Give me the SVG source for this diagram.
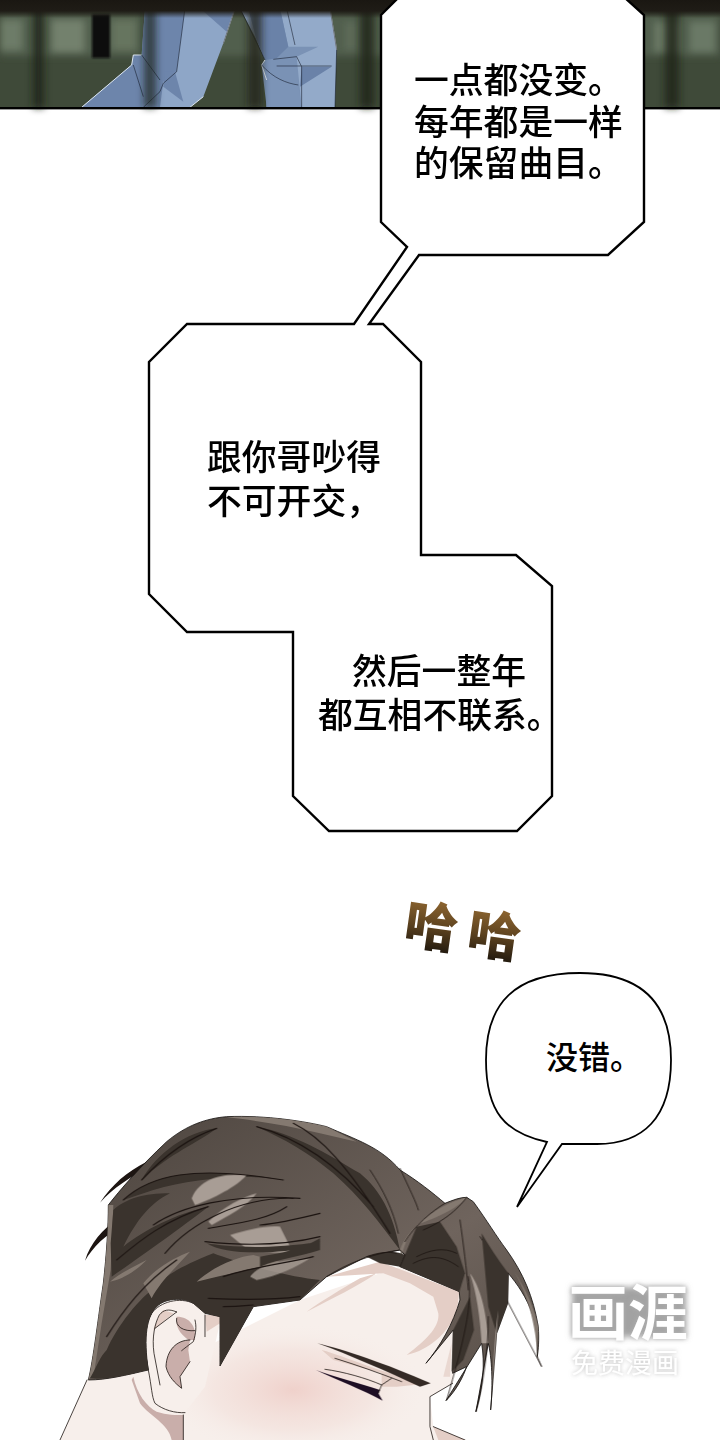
<svg xmlns="http://www.w3.org/2000/svg" width="720" height="1440" viewBox="0 0 720 1440">
<style>
.t{font-family:"Noto Sans CJK SC","Noto Sans",sans-serif;font-weight:500;font-size:34.8px;fill:#000}
.b{fill:#fff;stroke:#000;stroke-width:2.4;stroke-linejoin:miter}
.l{fill:none;stroke:#1d1512;stroke-width:3.5;stroke-linecap:round}
.lt{fill:none;stroke:#1d1512;stroke-width:2.4;stroke-linecap:round}
.k{fill:#1d1512}
.d{fill:#3a332d}
.g{fill:#a89d95}
.m{fill:#847970}
.s{fill:#e4cec6}
.c{fill:#c9aeaa}
.leg{stroke:#0d1320;stroke-width:1.6;fill:none}
</style>
<defs>
<linearGradient id="ha" x1="0" y1="0" x2="0" y2="1"><stop offset="0" stop-color="#a9793a"/><stop offset=".55" stop-color="#5c421f"/><stop offset="1" stop-color="#0c0a08"/></linearGradient>
<linearGradient id="hair" x1="0" y1="0" x2="1" y2="1"><stop offset="0" stop-color="#4c443e"/><stop offset=".6" stop-color="#6f645d"/><stop offset="1" stop-color="#544b44"/></linearGradient>
<linearGradient id="band" x1="0" y1="0" x2="0" y2="1"><stop offset="0" stop-color="#1a1712"/><stop offset=".6" stop-color="#1f1c16"/><stop offset="1" stop-color="#1f1c16" stop-opacity="0"/></linearGradient>
<radialGradient id="blush"><stop offset="0" stop-color="#ecc4bd" stop-opacity=".7"/><stop offset=".6" stop-color="#f0d8d2" stop-opacity=".4"/><stop offset="1" stop-color="#f7efeb" stop-opacity="0"/></radialGradient>
<filter id="bl" x="-30%" y="-30%" width="160%" height="160%"><feGaussianBlur stdDeviation="3.5"/></filter>
<filter id="bs" x="-30%" y="-30%" width="160%" height="160%"><feGaussianBlur stdDeviation="1.2"/></filter>
<filter id="wm" x="-20%" y="-30%" width="140%" height="160%"><feGaussianBlur in="SourceAlpha" stdDeviation="2.2"/><feColorMatrix values="0 0 0 0 .45 0 0 0 0 .45 0 0 0 0 .45 0 0 0 .85 0"/><feMerge><feMergeNode/><feMergeNode in="SourceGraphic"/></feMerge></filter>
<filter id="wb" x="-20%" y="-30%" width="140%" height="160%"><feGaussianBlur stdDeviation="3"/></filter>
</defs>
<rect width="720" height="1440" fill="#fff"/>

<g id="top-panel">
<rect width="720" height="108" fill="#3f4a39"/>
<g filter="url(#bl)">
<rect x="0" y="14" width="720" height="42" fill="#515e4d"/>
<rect x="0" y="20" width="22" height="30" fill="#6d7b67"/><rect x="52" y="20" width="32" height="32" fill="#73816d"/>
<rect x="112" y="20" width="24" height="30" fill="#66745f"/><rect x="345" y="22" width="12" height="28" fill="#5d6b58"/>
<rect x="655" y="22" width="24" height="30" fill="#6d7b67"/><rect x="690" y="22" width="25" height="30" fill="#6b7966"/>
</g>
<g transform="scale(.3333)">
<path d="M435,25H705L670,130L610,290L570,322H245L395,195L400,165H425Z" fill="#8ea6c7"/>
<path d="M435,25H555L530,215L490,245L480,322H245L395,195L400,165H425Z" fill="#6d85ab"/>
<path d="M600,25H705L680,95Z" fill="#6d85ab"/>
<path d="M495,215L525,215L550,305L490,260Z" fill="#6d85ab"/>
<path d="M720,25H990L1010,150L1005,322H800L800,240L785,195L795,180L770,120Z" fill="#93aac9"/>
<path d="M745,25H840L865,140L890,140L955,140L890,170L905,322H800L800,240L785,195L795,180L770,120Z" fill="#7a92b5"/>
<path d="M745,25H840L865,140L830,175L795,180L770,120ZM905,200H995L900,260Z" fill="#6a82a8"/>
<path d="M785,195C820,235 860,250 895,255L905,322H800Z" fill="#7c94b7"/>
<path d="M245,322L395,195L400,165H425M610,290L570,322M670,130L705,25M795,180L785,195L800,240M1010,150L990,25" fill="none" stroke="#dde6f0" stroke-width="3"/>
<path class="leg" d="M555,25L530,215L490,250L480,275L430,322M400,195L430,290M425,165L480,240M705,25L670,130M720,25L795,180M990,25L1010,150L1005,322M860,25L885,135M820,178L890,170L905,200V322M830,198H995M785,195C820,235 860,250 895,255"/>
</g>
<g filter="url(#bl)">
<rect x="33" y="0" width="11" height="108" fill="#1f231a" opacity=".85"/>
<rect x="144" y="0" width="12" height="108" fill="#1f231a" opacity=".7"/>
<rect x="248" y="0" width="14" height="108" fill="#1f231a" opacity=".75"/>
<rect x="360" y="0" width="14" height="108" fill="#1f231a" opacity=".85"/>
<rect x="665" y="0" width="14" height="108" fill="#1f231a" opacity=".85"/>
</g>
<rect x="92" y="14" width="18" height="44" fill="#0a0b08" filter="url(#bs)"/>
<rect width="720" height="18" fill="url(#band)"/>
<rect y="107" width="720" height="2.4" fill="#000"/>
</g>

<g id="bubble-pair">
<path class="b" d="M399,-3L381,15V222L407,247L354,324H187L149,362V594L187,632H293V796L329,831H517L552,796V586L516,555H421V362L383,324H369L419,255H608L644,222V15L624,-3Z"/>
<text class="t" x="414" y="93">一点都没变。</text>
<text class="t" x="414" y="135">每年都是一样</text>
<text class="t" x="414" y="176">的保留曲目。</text>
<text class="t" x="207" y="470">跟你哥吵得</text>
<text class="t" x="207" y="514">不可开交，</text>
<text class="t" x="352" y="684">然后一整年</text>
<text class="t" x="318" y="728">都互相不联系。</text>
</g>

<g id="sfx" font-family="Noto Sans CJK SC, sans-serif" font-weight="900" font-size="53" fill="url(#ha)">
<text x="405" y="946" transform="rotate(8 432 925)">哈</text>
<text x="468" y="955" transform="rotate(8 495 934)">哈</text>
</g>

<g id="round-bubble">
<path d="M547,1142C505,1133 486,1112 486,1060C486,1003 515,973 580,973C642,973 671,1003 671,1060C671,1118 643,1144 597,1144L562,1144L517,1207Z" fill="#fff" stroke="#000" stroke-width="1.8"/>
<text class="t" x="546" y="1069" style="font-size:32px">没错。</text>
</g>

<g id="character" transform="translate(80 1110) scale(.3333)">
<path d="M21,810L-60,990H1160L1060,950L1050,860L1118,820L1140,560L960,470L660,570L400,700L200,760Z" fill="#f7efeb"/>
<ellipse cx="640" cy="840" rx="400" ry="200" fill="url(#blush)"/>
<path class="c" d="M160,800C170,850 200,890 230,905C260,915 290,915 310,915V990H275C265,940 210,920 180,880L155,810Z"/>
<path class="s" d="M1060,950L1155,990H1075Z"/>
<path class="s" d="M900,455L1138,545L1130,610C1100,670 1050,720 980,735C1040,690 1080,650 1075,610L1060,560L990,520L910,490L740,500ZM680,605C760,565 830,530 890,490L840,505C780,540 730,570 680,605Z"/>
<path class="s" d="M1115,700L1110,800L1090,800Z" opacity=".7"/>
<path class="s" d="M725,720C800,740 900,790 1052,820L950,830L905,830L905,790L760,750Z"/>

<path d="M340,580C300,560 240,575 215,610C190,650 190,700 205,780C215,830 215,860 225,880C250,900 285,910 315,908L375,830L420,640L375,610Z" fill="#f7efeb"/>
<path class="s" d="M375,615H420V640L380,665Z"/>
<path class="c" d="M290,620C330,620 350,650 345,690L325,690C300,670 285,650 290,620ZM330,690C290,690 260,720 258,770C265,800 285,820 305,835L300,800L330,755L325,720Z"/>
<path class="s" d="M250,600C240,610 225,640 220,660L280,610Z"/>
<path class="lt" d="M340,580C300,560 240,575 215,610C190,650 190,700 205,780C215,830 215,860 225,880C250,900 285,910 315,908M310,915V990M375,615V680M290,606C265,595 250,600 238,615C225,640 215,680 222,730L240,825M290,606L225,655M290,625C285,650 310,665 345,662M345,630C350,650 348,670 340,695C320,710 305,722 305,722M330,690C290,690 260,720 258,770C265,800 285,820 305,835L300,800L330,755M21,810L-60,990M1118,820L1050,860V950L1060,990M1060,950L1155,990"/>

<path class="k" d="M200,155C140,185 95,225 60,278C100,235 150,200 205,175ZM110,330C70,355 30,400 15,452C40,410 75,375 125,350Z"/>
<path fill="url(#hair)" stroke="#15110f" stroke-width="2.5" stroke-linejoin="round" d="M25,810C40,750 55,620 70,520C80,430 85,350 85,285C120,240 180,170 260,95C320,45 380,25 440,20C560,15 680,35 740,50C830,90 900,110 960,180C1010,210 1060,250 1095,280C1120,270 1140,262 1160,262L1180,275C1220,330 1250,380 1280,420C1330,490 1360,560 1375,650C1378,690 1375,720 1372,740C1372,700 1372,650 1360,620C1340,560 1310,520 1285,490L1283,580L1250,670L1232,900C1240,820 1235,740 1225,700L1188,905C1210,830 1215,760 1205,700L1098,872C1130,840 1150,800 1160,770L1118,790L1120,660L1038,760C1080,710 1120,640 1140,570L1138,545L960,470L975,435L960,420L860,440L740,500L660,570L520,590L420,768L420,620L375,610L340,580C320,565 260,560 230,590C200,620 190,680 205,780C140,795 80,810 25,810Z"/>
<path class="m" d="M440,22C560,15 680,35 740,50L830,95L720,70C620,45 520,30 440,22ZM85,285L100,285L92,480L65,640L42,790L25,810C40,750 55,620 70,520C80,430 85,350 85,285Z"/>
<path class="d" d="M80,720C110,650 180,560 230,530C250,500 300,470 400,430C480,460 620,500 720,510L660,570L520,590L420,768L420,620L375,610L340,580C320,565 260,560 230,590C200,620 190,680 205,780C140,795 80,810 30,805C50,770 60,740 80,720Z"/>
<path class="d" d="M100,300C140,265 190,250 270,250C210,280 170,330 130,410C190,360 290,310 385,290C320,340 210,420 95,500L92,400Z"/>
<path class="d" d="M185,210C230,130 320,65 410,55C360,95 270,130 185,210ZM130,270C210,195 340,165 610,210C500,190 340,205 220,240C190,250 160,260 130,270Z"/>
<path class="d" d="M530,50C640,70 740,130 840,190C900,240 940,310 960,420C900,340 840,260 760,190C690,130 610,85 530,50Z"/>
<path class="m" d="M350,515C400,470 470,440 520,435L600,455C530,475 430,495 350,515ZM190,520C230,470 290,440 330,425C290,470 240,515 215,565ZM90,515C120,490 160,470 200,450C160,490 120,510 90,515Z"/>
<g filter="url(#bs)"><path class="g" d="M335,265C360,200 440,190 500,195C470,230 400,265 345,285Z"/>
<path class="g" d="M385,335C430,290 490,260 530,250C500,290 440,320 395,345Z"/>
<path class="g" d="M450,375C500,360 560,345 600,350L640,430L510,425Z"/>
<path class="g" d="M510,500C540,460 610,450 690,445C650,470 590,500 530,510Z" opacity=".8"/></g>
<path class="d" d="M540,440C600,430 660,420 720,385V420C660,440 600,445 540,470ZM380,400C440,410 560,420 720,395L700,410C600,430 440,440 380,400Z"/>
<path class="l" d="M130,270C210,195 340,165 610,210M185,210C240,150 320,85 410,55M220,345C300,290 450,250 660,265M620,290C560,330 470,340 385,355M540,345C600,340 680,320 720,310M375,395C470,405 600,410 720,380M430,500C520,470 620,460 700,440M385,565C480,570 580,570 660,560M430,590C480,590 510,585 520,585M80,680C130,600 190,520 290,450M110,450C170,400 250,330 385,290M255,430C330,340 480,260 640,265M530,50C640,80 760,150 880,290M640,40C720,80 800,160 930,370"/>

<path class="d" d="M960,470L1010,350L1080,335L1130,410L1155,490L1138,545Z"/>
<path class="m" d="M960,420C980,360 1060,290 1160,262C1140,290 1080,320 1010,345C990,370 975,395 965,440Z"/>
<path class="d" d="M860,440C900,425 950,420 975,435L960,470L900,460Z"/>
<path class="lt" d="M740,500C800,460 880,430 960,420L975,435L960,470M860,440C900,425 930,425 950,430M1095,280C1060,300 1000,350 975,395M1030,360C1100,330 1140,290 1160,262M1010,440C1050,420 1090,410 1130,430M1000,460C1040,440 1080,430 1135,470M1140,330C1150,400 1160,480 1165,540M1200,380C1240,440 1270,490 1285,490M1275,560L1385,770L1372,740M870,180C910,240 940,300 955,370M960,175C990,240 1010,280 1015,300"/>
<path class="d" d="M1120,660L1170,560L1182,660L1150,750L1115,785Z"/>
<path class="d" d="M1205,370C1240,430 1270,470 1285,490L1283,580L1250,670L1225,590Z"/>
<path class="g" d="M1170,490C1200,530 1220,600 1225,700L1205,700C1200,620 1190,550 1170,490ZM1255,600L1250,670L1232,900C1240,820 1240,700 1255,600Z"/>
<path class="m" d="M1300,480C1340,540 1365,600 1375,650L1372,740C1372,680 1350,560 1300,480Z"/>
<path class="lt" d="M1165,500C1180,580 1150,700 1100,870M1225,620C1225,720 1210,820 1188,905"/>

<path d="M712,700C790,718 920,762 1052,820L1020,830C920,785 810,735 712,700Z" fill="#342a25"/>
<path d="M708,780C760,800 840,820 900,840L895,850L908,872C850,840 770,810 708,780Z" fill="#1e0e24"/>
<path class="lt" stroke-width="1.6" d="M765,745C830,765 900,790 965,815M735,778C790,785 860,805 905,825L895,850M905,825L935,805"/>
</g>

<g id="watermark">
<rect x="572" y="1287" width="114" height="50" fill="#a2a2a2" filter="url(#wb)"/>
<text x="568" y="1335" font-family="Noto Sans CJK SC, sans-serif" font-size="60" font-weight="700" fill="#fff" filter="url(#wm)">画涯</text>
<text x="571" y="1373" font-family="Noto Sans CJK SC, sans-serif" font-size="27" font-weight="400" fill="#fff" filter="url(#wm)">免费漫画</text>
</g>
</svg>
